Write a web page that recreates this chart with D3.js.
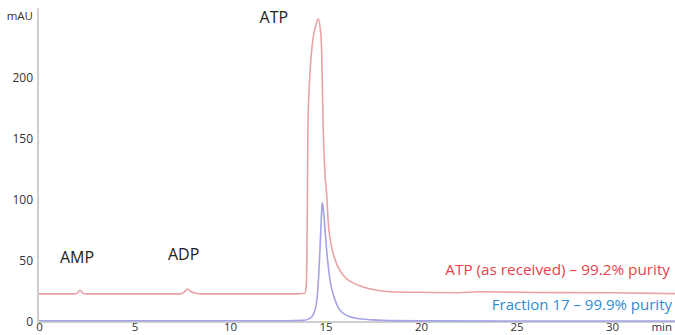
<!DOCTYPE html>
<html>
<head>
<meta charset="utf-8">
<script src="https://cdn.jsdelivr.net/npm/d3@7"></script>
<style>
    body { margin: 0; background: #fff; }
    svg { display: block; font-family: "Open Sans", "Noto Sans", sans-serif; }
</style>
</head>
<body>
<div id="container"></div>
<script>
// tick labels
const xTicks = [0, 5, 10, 15, 20, 25, 30];
const yTicks = [0, 50, 100, 150, 200];

// ATP as received, [min, mAU]
const atpTrace = [
    [0, 23], [1, 23], [1.85, 23], [2.0, 23.6], [2.15, 26], [2.3, 23.5], [2.5, 23],
    [5, 23], [7.4, 23], [7.6, 24.5], [7.77, 27], [7.95, 25], [8.2, 23.6], [8.5, 23],
    [11, 23], [13.5, 23], [13.93, 23.5], [14.0, 32], [14.03, 60], [14.05, 95],
    [14.08, 160], [14.2, 207], [14.35, 232], [14.5, 243], [14.62, 248], [14.72, 241],
    [14.8, 222], [14.87, 165], [14.95, 128], [15.08, 100], [15.13, 85], [15.3, 63],
    [15.5, 51], [15.8, 41], [16.1, 35.5], [16.44, 32], [17, 28.5], [17.7, 26],
    [18.4, 24.8], [20, 24.3], [22, 24], [23, 24.8], [24, 24.6], [26, 24.2],
    [30, 23.9], [33.3, 23.2]
];

// Fraction 17
const fractionTrace = [
    [0, 1], [5, 1], [10, 1], [13, 1], [13.8, 1.3], [14.19, 3], [14.45, 9.8],
    [14.55, 18], [14.62, 32], [14.71, 59], [14.78, 85], [14.83, 97.8], [14.88, 93],
    [14.94, 83], [15.06, 59], [15.24, 34], [15.5, 18], [15.93, 7], [16.6, 3],
    [17.5, 1.7], [18.4, 1.1], [20, 0.9], [25, 0.8], [33.3, 0.8]
];

// peak labels [text, min, mAU]
const peakLabels = [["AMP", 1.1, 48.5], ["ADP", 6.75, 51], ["ATP", 11.55, 245]];

const width = 675, height = 335;

const svg = d3.select("#container").append("svg")
    .attr("width", width)
    .attr("height", height);

const x = d3.scaleLinear().domain([0, 33.3]).range([39, 675]);
const y = d3.scaleLinear().domain([0, 257]).range([322, 8]);

// axes
const xAxis = svg.append("g")
    .attr("transform", `translate(0,${y(0)})`)
    .call(d3.axisBottom(x).tickValues(xTicks).tickSize(0).tickPadding(1));
const yAxis = svg.append("g")
    .attr("transform", `translate(${x(0) - 1},0)`)
    .call(d3.axisLeft(y).tickValues(yTicks).tickSize(0).tickPadding(5));

[xAxis, yAxis].forEach(function(a) {
    a.select(".domain").attr("stroke", "#cfcfcf").attr("stroke-width", 2);
    a.selectAll("text")
        .attr("fill", "#333")
        .style("font-size", "12px")
        .style("font-family", "'Open Sans', sans-serif");
});
xAxis.selectAll("text").style("font-size", "11.5px");
yAxis.select(".domain").attr("d", `M0,${y(0)}V${y(257)}`);
xAxis.select(".domain").attr("d", `M${x(0) - 2},0H${width}`);

svg.append("text")
    .attr("x", 33).attr("y", 20)
    .attr("text-anchor", "end")
    .attr("fill", "#333")
    .style("font-size", "11.5px")
    .text("mAU");

svg.append("text")
    .attr("x", 672).attr("y", 331)
    .attr("text-anchor", "end")
    .attr("fill", "#333")
    .style("font-size", "11.5px")
    .text("min");

// traces
const line = d3.line()
    .x(d => x(d[0]))
    .y(d => y(d[1]))
    .curve(d3.curveMonotoneX);

svg.append("path")
    .datum(atpTrace)
    .attr("d", line)
    .attr("fill", "none")
    .attr("stroke", "#e9a3a6")
    .attr("stroke-width", 1.6);

svg.append("path")
    .datum(fractionTrace)
    .attr("d", line)
    .attr("fill", "none")
    .attr("stroke", "#a3a3e6")
    .attr("stroke-width", 1.6);

// peak names
svg.selectAll(".peak")
    .data(peakLabels)
    .enter().append("text")
    .attr("class", "peak")
    .attr("x", d => x(d[1]))
    .attr("y", d => y(d[2]))
    .attr("fill", "#222")
    .style("font-size", "16px")
    .text(d => d[0]);

// series labels
svg.append("text")
    .attr("x", 670).attr("y", 275)
    .attr("text-anchor", "end")
    .attr("fill", "#e8424b")
    .style("font-size", "15.3px")
    .text("ATP (as received) – 99.2% purity");

svg.append("text")
    .attr("x", 672).attr("y", 310)
    .attr("text-anchor", "end")
    .attr("fill", "#2f8bd0")
    .style("font-size", "15px")
    .text("Fraction 17 – 99.9% purity");
</script>
</body>
</html>
